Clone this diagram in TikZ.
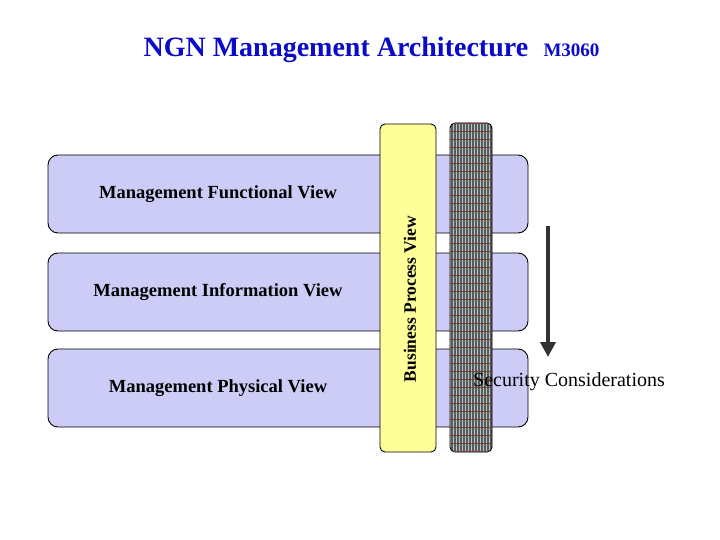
\documentclass[tikz,border=0pt]{standalone}
\usepackage{fontspec}
\setmainfont{Liberation Serif}
\usetikzlibrary{positioning, arrows.meta, patterns.meta}
\definecolor{titulo}{HTML}{0A0AC8}
\definecolor{lavanda}{HTML}{CCCCF7}
\definecolor{amarillo}{HTML}{FFFF99}
\definecolor{trama}{HTML}{5E5A5A}
\definecolor{rayas}{HTML}{A8CACA}
\definecolor{granate}{HTML}{7A3A3A}
\definecolor{flecha}{HTML}{333333}
\tikzset{
  vista/.style={draw=black, line width=0.9pt, fill=lavanda, rounded corners=10pt, minimum width=480pt, minimum height=78pt, inner sep=0pt},
  etiqueta/.style={font=\fontsize{18.5}{21}\selectfont\bfseries},
  barra/.style={draw=black, line width=0.9pt, rounded corners=5pt, inner sep=0pt}
}
\begin{document}
\begin{tikzpicture}[x=1pt, y=-1pt]
\useasboundingbox (0,0) rectangle (720,540);
\node[text=titulo, font=\fontsize{28}{31}\selectfont\bfseries, anchor=base west] (tit) at (140,57) {NGN Management Architecture};
\node[text=titulo, font=\fontsize{19}{21}\selectfont\bfseries, anchor=base west] (ref) at (540,57) {M3060};
\foreach \i/\m/\y in {1/{Management Functional View}/194, 2/{Management Information View}/292,
                      3/{Management Physical View}/388} {
  \node[vista] (box\i) at (288,\y) {};
  \node[etiqueta] (lbl\i) at (218,\y) {\m};
}
\node[barra, fill=amarillo, minimum width=56pt, minimum height=328pt] (proc) at (408,288) {};
\node[etiqueta, font=\fontsize{17.5}{20}\selectfont\bfseries, rotate=90] (proclbl) at (410,299) {Business Process View};
\node[barra, preaction={fill=trama}, pattern={Lines[angle=90, distance=3pt, line width=1pt]}, pattern color=rayas,
      postaction={pattern={Lines[angle=0, distance=8pt, line width=1pt]}, pattern color=granate},
      minimum width=42pt, minimum height=329pt] (seg) at (471,287.5) {};
\node[font=\fontsize{20}{22}\selectfont, anchor=west, inner sep=0pt] (seglbl) at (473,382) {Security Considerations};
\coordinate (arrtop) at (548,226);
\coordinate (arrbot) at (548,357);
\draw[flecha, line width=4.5pt, -{Triangle[length=15pt, width=15pt]}] (arrtop) -- (arrbot);
\end{tikzpicture}
\end{document}
